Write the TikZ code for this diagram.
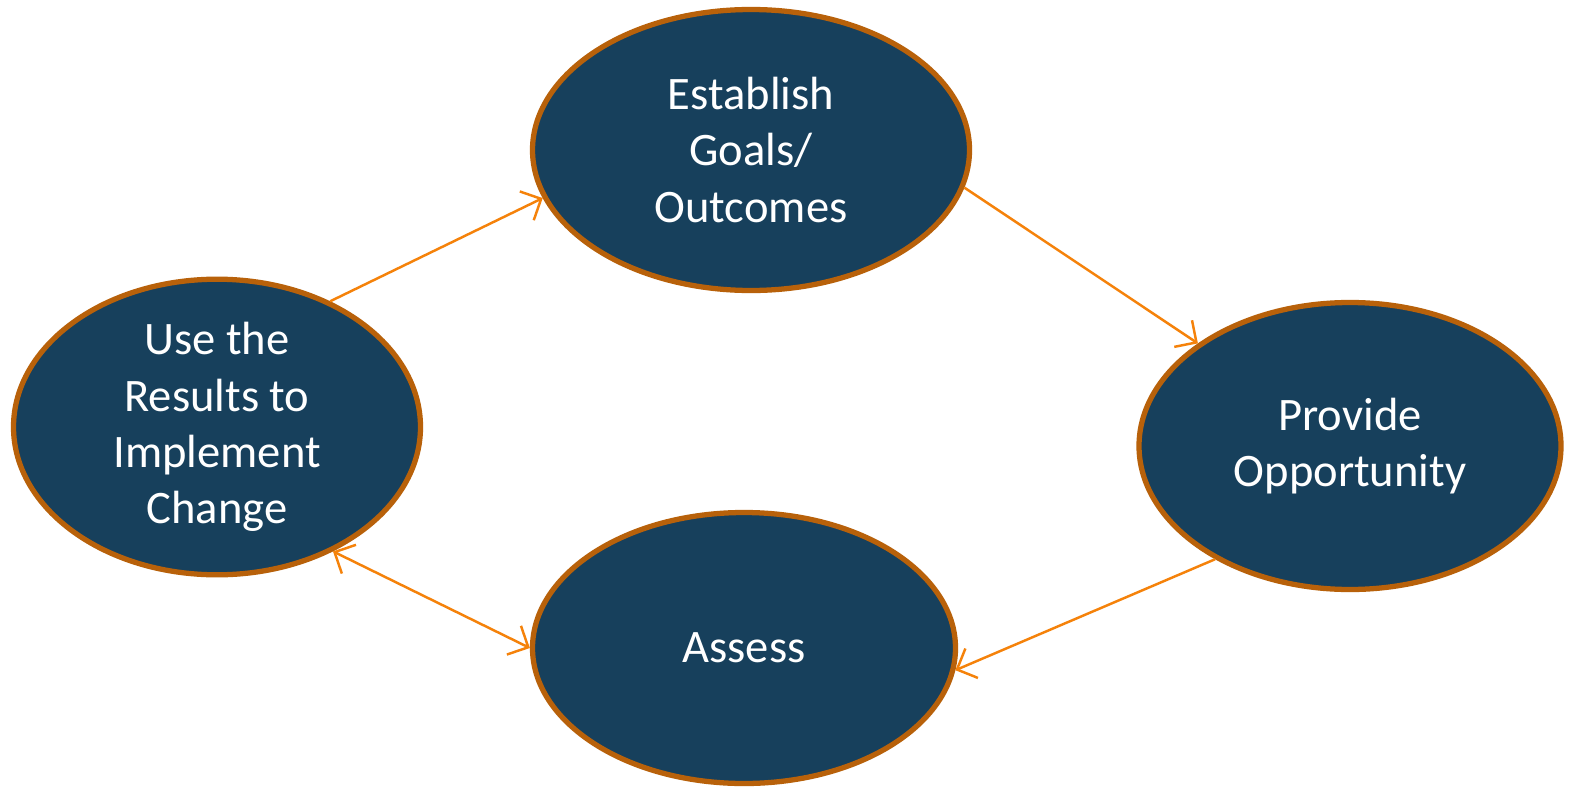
\documentclass[tikz,border=0pt]{standalone}
\usepackage{fontspec}
\setmainfont{Carlito}
\usepackage{xcolor}
\usepackage{tikz}
\usetikzlibrary{shapes.geometric,arrows.meta}
\definecolor{bg}{HTML}{FFFFFF}
\definecolor{navy}{HTML}{17405C}
\definecolor{rim}{HTML}{B8610A}
\definecolor{flow}{HTML}{F5820A}
\definecolor{text}{HTML}{FFFFFF}
\tikzset{
  stage/.style={ellipse, draw=rim, line width=3pt, fill=navy, text=text,
    align=center, inner sep=0pt, font=\fontsize{26.5}{32}\selectfont},
  link/.style={draw=flow, line width=1.4pt, -{Straight Barb[length=3.2mm,width=6.4mm]}},
  dlink/.style={link, {Straight Barb[length=3.2mm,width=6.4mm]}-{Straight Barb[length=3.2mm,width=6.4mm]}}
}

\begin{document}
\begin{tikzpicture}
  \fill[bg] (0,0) rectangle (31.88,15.92);
  \useasboundingbox (0,0) rectangle (31.88,15.92);

  \node[stage, minimum width=8.74cm, minimum height=5.62cm] (goals) at (15.02,12.92) {Establish\\Goals/\\Outcomes};
  \node[stage, minimum width=8.44cm, minimum height=5.74cm] (opp) at (27.0,7.0) {Provide\\Opportunity};
  \node[stage, minimum width=8.46cm, minimum height=5.42cm] (assess) at (14.88,2.96) {Assess};
  \node[stage, minimum width=8.14cm, minimum height=5.62cm] (change) at (4.34,7.38) {Use the\\Results to\\Implement\\Change};

  % cycle
  \draw[link] (change.48) -- (goals.193);
  \draw[link] (goals.-10) -- (opp.146);
  \draw[link] (opp.220) -- (assess.-6);
  \draw[dlink] (change.-47) -- (assess.180);
\end{tikzpicture}
\end{document}
